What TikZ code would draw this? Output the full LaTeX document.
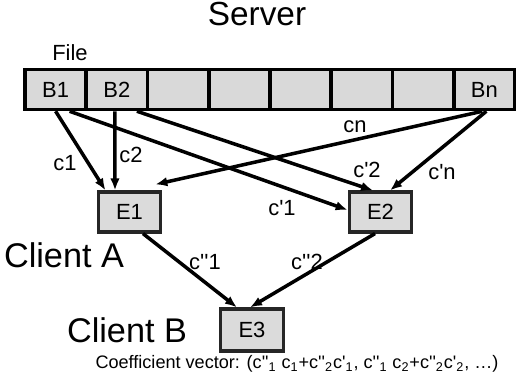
\documentclass[tikz,border=0pt]{standalone}
\usepackage{fontspec}
\setmainfont{Liberation Sans}
\usetikzlibrary{arrows.meta}

\newcommand{\sq}{\textquotesingle}
\newcommand{\dq}{\textquotesingle\textquotesingle}

\tikzstyle{cell} = [draw=black, fill=gray!30, line width=2pt, rectangle,
  minimum width=1.225cm, minimum height=0.8cm, inner sep=0pt,
  font=\fontsize{12.5}{14}\selectfont]
\tikzstyle{encoder} = [draw=black!85, fill=gray!28, line width=1.8pt,
  rectangle, minimum width=1.25cm, minimum height=0.8cm, inner sep=0pt,
  font=\fontsize{12.5}{14}\selectfont]
\tikzstyle{coded} = [-{Latex[length=2.4mm,width=1.9mm]}, line width=2pt]
\tikzstyle{lbl} = [font=\fontsize{12.5}{14}\selectfont, inner sep=0pt]
\tikzstyle{big} = [font=\fontsize{19.5}{22}\selectfont, inner sep=0pt]

\begin{document}
\begin{tikzpicture}[x=0.02cm, y=-0.02cm]
        \useasboundingbox (0,0) rectangle (516,386);

        \node [big, font=\fontsize{19}{22}\selectfont] (server) at (257,14) {Server};
        \node [lbl] (file) at (70,53) {File};

        \foreach \lab [count=\i] in {B1,B2,{},{},{},{},{},Bn}
          \node [cell] (cell\i) at ({25+(\i-0.5)*61.25},89.5) {\lab};

        \node [encoder] (e1) at (129.5,212) {E1};
        \node [encoder] (e2) at (380.5,212) {E2};
        \node [encoder, minimum height=0.84cm] (e3) at (252,330) {E3};

        \node [big] (clienta) at (64,255) {Client A};
        \node [big] (clientb) at (127,330) {Client B};
        \node [lbl, font=\fontsize{10.3}{12}\selectfont] (coeff) at (297,364)
          {Coefficient vector: (c\dq\textsubscript{1} c\textsubscript{1}+c\dq\textsubscript{2}c\sq\textsubscript{1},
           c\dq\textsubscript{1} c\textsubscript{2}+c\dq\textsubscript{2}c\sq\textsubscript{2}, \dots)};

        \draw[coded] (cell1.south) -- ([xshift=-0.48cm]e1.north);
        \draw[coded] ([xshift=-0.04cm]cell2.south) -- ([xshift=-0.29cm]e1.north);
        \draw[coded] ([xshift=0.28cm]cell1.south) -- ([yshift=0.04cm]e2.west);
        \draw[coded] ([xshift=0.4cm]cell2.south) -- ([xshift=-0.15cm]e2.north);
        \draw[coded] ([xshift=-0.04cm]cell8.south) -- ([xshift=-0.14cm,yshift=0.12cm]e1.north east);
        \draw[coded] ([xshift=0.04cm]cell8.south) -- ([xshift=0.19cm]e2.north);
        \draw[coded] ([xshift=0.27cm]e1.south) -- ([xshift=-0.3cm]e3.north);
        \draw[coded] ([xshift=-0.11cm]e2.south) -- ([xshift=-0.04cm]e3.north);

        \node [lbl] (lc1)   at (65,163)  {c1};
        \node [lbl] (lc2)   at (131,155) {c2};
        \node [lbl] (lcn)   at (355,127) {cn};
        \node [lbl] (lcp2)  at (367,170) {c\sq2};
        \node [lbl] (lcpn)  at (442,172) {c\sq n};
        \node [lbl] (lcp1)  at (282,208) {c\sq1};
        \node [lbl] (lcpp1) at (205,262) {c\dq1};
        \node [lbl] (lcpp2) at (307,262) {c\dq2};
      \end{tikzpicture}
\end{document}
